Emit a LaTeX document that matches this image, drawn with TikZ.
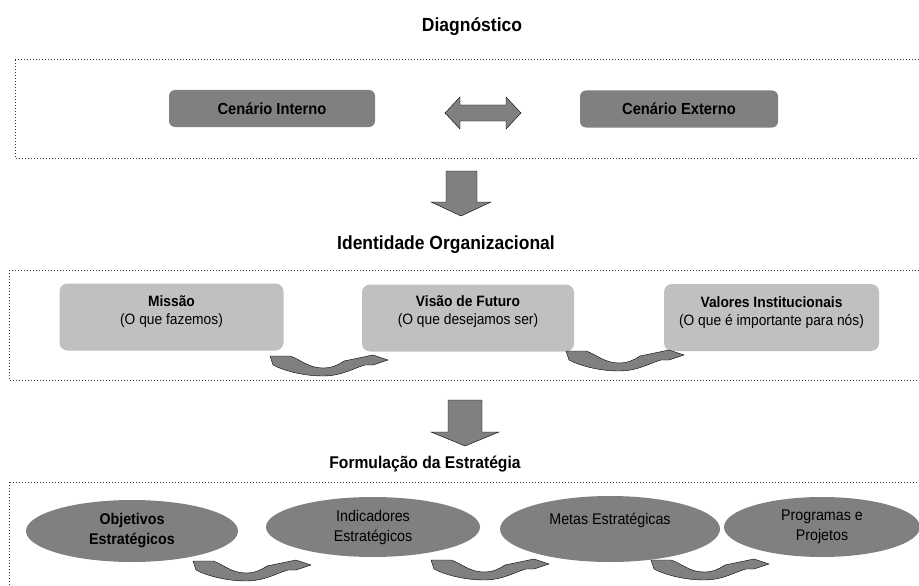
\documentclass[tikz,border=0pt]{standalone}
\usepackage{fontspec}
\setmainfont[FakeStretch=0.92]{Liberation Sans}
\usetikzlibrary{shapes.geometric}

\definecolor{cinzaEsc}{RGB}{128,128,128}
\definecolor{cinzaCla}{RGB}{192,192,192}

\tikzset{
  moldura/.style={line width=1pt, dash pattern=on 1pt off 2pt, draw=black!80},
  titulo/.style={font=\bfseries\fontsize{19}{22}\selectfont},
  cenario/.style={rounded corners=6pt, fill=cinzaEsc, inner sep=0pt,
                  minimum height=37pt, font=\bfseries\fontsize{16}{18}\selectfont},
  identbox/.style={rounded corners=8pt, fill=cinzaCla, inner sep=0pt,
                  minimum height=67pt},
  identtxt/.style={align=center, font=\fontsize{15}{18}\selectfont},
  estrat/.style={ellipse, fill=cinzaEsc, inner sep=0pt, align=center,
                  font=\fontsize{15.5}{20}\selectfont},
  seta/.style={fill=cinzaEsc, draw=black, line width=0.4pt},
}

% seta curva (origem = canto superior esquerdo)
\newcommand{\setaCurva}[1]{%
  \path[seta, shift={(#1)}] (0,0) -- (20,0)
    .. controls (30,3) and (38,12) .. (53,12)
    .. controls (62,12) and (68,9) .. (74,5)
    -- (103,-1) -- (118,4) -- (103,9) -- (95,9)
    .. controls (84,12) and (72,20) .. (53,20)
    .. controls (32,20) and (12,14) .. (3,9) -- cycle;}

\begin{document}
\begin{tikzpicture}[x=1pt,y=-1pt]

  \useasboundingbox (0,0) rectangle (919,586);
  \clip (0,0) rectangle (919,586);

  \begin{scope}   % Diagnostico

    \node[titulo] (diag) at (472,27) {Diagnóstico};
    \draw[moldura] (15,60) rectangle (930,158);

    \node[cenario, minimum width=206pt] (cenInt) at (272,108.5) {Cenário Interno};
    \node[cenario, minimum width=198pt] (cenExt) at (679,109) {Cenário Externo};

    % seta dupla
    \path[seta] (445,113) -- (460,97) -- (460,105) -- (506,105) -- (506,97)
      -- (521,113) -- (506,129) -- (506,121) -- (460,121) -- (460,129) -- cycle;

    % seta para baixo
    \path[seta] (446,171) -- (477,171) -- (477,202) -- (491,202) -- (461,216)
      -- (431,202) -- (446,202) -- cycle;

  \end{scope}

  \begin{scope}   % Identidade Organizacional

    \node[titulo] (ident) at (446,245) {Identidade Organizacional};
    \draw[moldura] (9,270) rectangle (930,380);

    \node[identbox, minimum width=224pt] (missao) at (171.5,317) {};
    \node[identbox, minimum width=212pt] (visao)  at (468,318) {};
    \node[identbox, minimum width=215pt] (valores) at (771.5,317.5) {};

    \node[identtxt] (missaoT) at ([yshift=5]missao.center)
         {\textbf{Missão}\\(O que fazemos)};
    \node[identtxt] (visaoT) at ([yshift=6]visao.center)
         {\textbf{Visão de Futuro}\\(O que desejamos ser)};
    \node[identtxt] (valoresT) at ([yshift=5]valores.center)
         {\textbf{Valores Institucionais}\\(O que é importante para nós)};

    \setaCurva{270,356}
    \setaCurva{566,351}

    % seta para baixo
    \path[seta] (448,400) -- (482,400) -- (482,432) -- (499,432) -- (465,446)
      -- (431,432) -- (448,432) -- cycle;

  \end{scope}

  \begin{scope}   % Formulacao da Estrategia

    \node[titulo, font=\bfseries\fontsize{17}{20}\selectfont] (formul)
         at (425,464) {Formulação da Estratégia};
    \draw[moldura] (9,482) rectangle (930,600);

    \node[estrat, minimum width=212pt, minimum height=62pt] (objet) at (132,531)
         {\textbf{Objetivos}\\\textbf{Estratégicos}};
    \node[estrat, minimum width=214pt, minimum height=60pt] (indic) at (373,527)
         {Indicadores\\Estratégicos};
    \node[estrat, minimum width=220pt, minimum height=66pt] (metas) at (610,529) {};
    \node[estrat, fill=none] (metasT) at ([yshift=9]metas.center)
         {Metas Estratégicas};
    \node[estrat, minimum width=196pt, minimum height=60pt] (progr) at (822,527)
         {Programas e\\Projetos};

    \setaCurva{193,561}
    \setaCurva{431,560}
    \setaCurva{651,560}

  \end{scope}

\end{tikzpicture}
\end{document}
